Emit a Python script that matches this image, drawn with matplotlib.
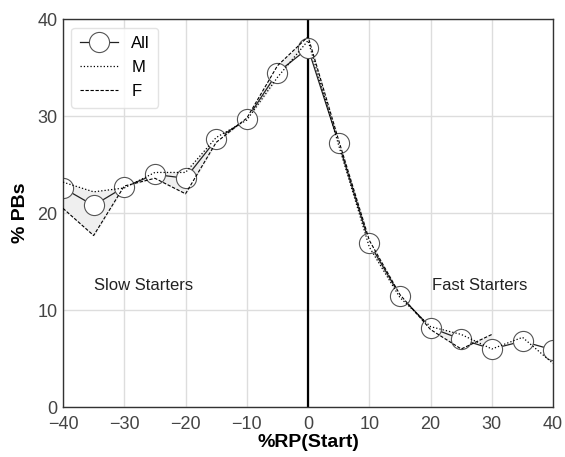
import matplotlib
matplotlib.use("Agg")
import matplotlib.pyplot as plt

plt.rcParams["font.family"] = ["Liberation Sans", "DejaVu Sans"]

# %RP(Start) bins
x = [-40, -35, -30, -25, -20, -15, -10, -5, 0, 5, 10, 15, 20, 25, 30, 35, 40]
all_pb = [22.6, 20.8, 22.7, 24.0, 23.6, 27.6, 29.7, 34.5, 37.0, 27.2, 16.9, 11.5, 8.2, 7.0, 6.0, 6.8, 5.9]
m_pb = [23.2, 22.2, 22.6, 24.2, 24.2, 27.8, 29.6, 34.0, 37.8, 27.0, 16.5, 11.3, 8.3, 7.5, 6.0, 7.2, 4.5]
x_f = [-40, -35, -30, -25, -20, -15, -10, -5, 0, 5, 10, 15, 20, 25, 30]
f_pb = [20.5, 17.7, 22.8, 23.6, 22.0, 27.3, 29.8, 35.2, 38.2, 27.5, 17.2, 11.6, 8.0, 6.0, 7.5]

fig = plt.figure(figsize=(5.65, 4.57), dpi=100)
ax = fig.add_axes([0.1115, 0.109, 0.8675, 0.849])

ax.grid(True, color="#dddddd", linewidth=1)
ax.set_axisbelow(True)

n = len(x_f)
ax.fill_between(x_f, m_pb[:n], f_pb, color="#efefef", zorder=1)

ax.plot(x, all_pb, color="#222222", linewidth=0.9, marker="o", markersize=14.5,
        markerfacecolor="white", markeredgecolor="#555555", markeredgewidth=0.8,
        label="All", zorder=2.5)
ax.plot(x, m_pb, color="black", linestyle=":", linewidth=0.9, label="M", zorder=3)
ax.plot(x_f, f_pb, color="black", linestyle="--", linewidth=0.8, dashes=(3, 1.5), label="F", zorder=3)

ax.axvline(0, color="black", linewidth=1.6, zorder=2)

ax.text(-35, 12.5, "Slow Starters", fontsize=12, color="#222222", va="center")
ax.text(20.2, 12.5, "Fast Starters", fontsize=12, color="#222222", va="center")

ax.set_xlim(-40, 40)
ax.set_ylim(0, 40)
ax.set_xticks(range(-40, 41, 10))
ax.set_yticks(range(0, 41, 10))
ax.tick_params(labelsize=13, colors="#444444", length=0)
ax.tick_params(axis="x", pad=6)
ax.tick_params(axis="y", pad=4)
for s in ax.spines.values():
    s.set_color("#333333")
    s.set_linewidth(1)

ax.set_xlabel("%RP(Start)", fontsize=14, fontweight="bold", labelpad=1)
ax.set_ylabel("% PBs", fontsize=14, fontweight="bold", labelpad=6)

ax.legend(loc="upper left", fontsize=12, frameon=True, edgecolor="#dddddd",
          fancybox=True, handlelength=2.3, handletextpad=0.8, labelspacing=0.55,
          borderpad=0.5, borderaxespad=0.5)

fig.savefig("out.png", dpi=100)
